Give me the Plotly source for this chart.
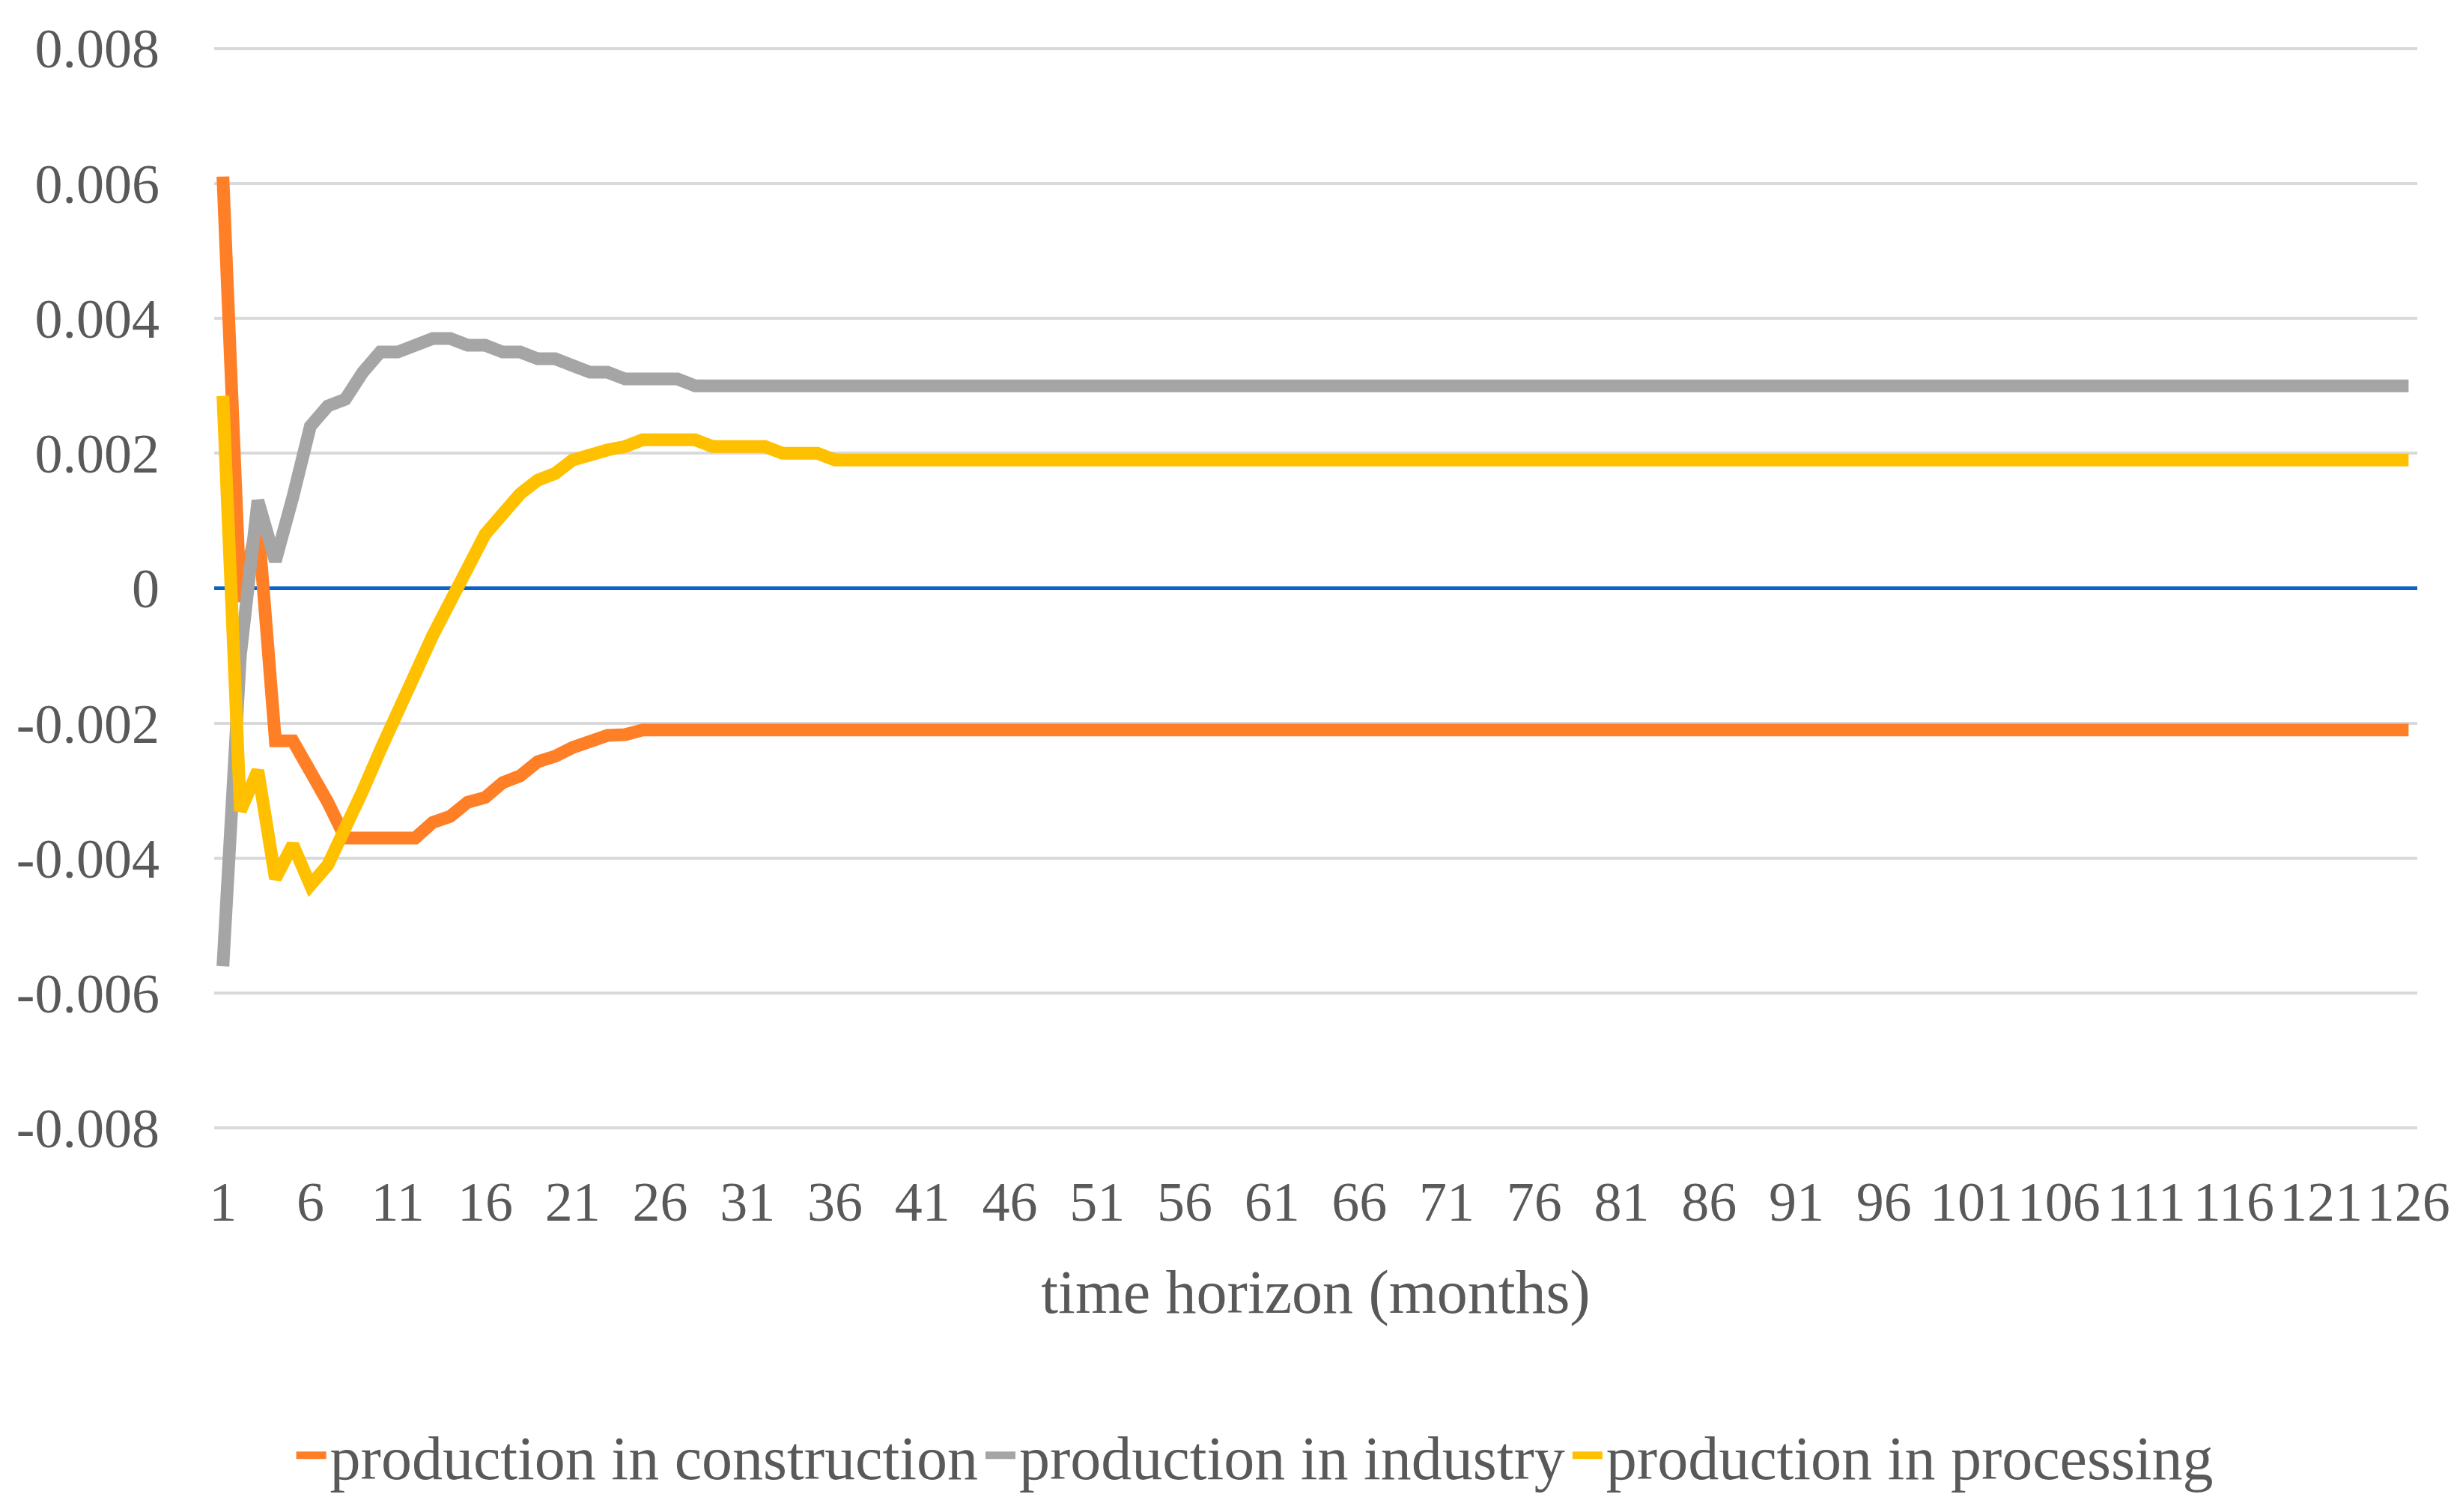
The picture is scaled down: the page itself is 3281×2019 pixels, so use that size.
import plotly.graph_objects as go

months = list(range(1, 127))

construction = [
    0.0061, -0.0002, 0.0010, -0.00226, -0.00226, -0.0027, -0.00317, -0.0037, -0.0037, -0.0037,
    -0.0037, -0.0037, -0.00347, -0.00338, -0.00317, -0.0031, -0.00288, -0.00278, -0.00257, -0.00249,
    -0.00236, -0.00226, -0.00218, -0.00217, -0.0021, -0.0021, -0.0021, -0.0021, -0.0021, -0.0021,
    -0.0021, -0.0021, -0.0021, -0.0021, -0.0021, -0.0021, -0.0021, -0.0021, -0.0021, -0.0021,
    -0.0021, -0.0021, -0.0021, -0.0021, -0.0021, -0.0021, -0.0021, -0.0021, -0.0021, -0.0021,
    -0.0021, -0.0021, -0.0021, -0.0021, -0.0021, -0.0021, -0.0021, -0.0021, -0.0021, -0.0021,
    -0.0021, -0.0021, -0.0021, -0.0021, -0.0021, -0.0021, -0.0021, -0.0021, -0.0021, -0.0021,
    -0.0021, -0.0021, -0.0021, -0.0021, -0.0021, -0.0021, -0.0021, -0.0021, -0.0021, -0.0021,
    -0.0021, -0.0021, -0.0021, -0.0021, -0.0021, -0.0021, -0.0021, -0.0021, -0.0021, -0.0021,
    -0.0021, -0.0021, -0.0021, -0.0021, -0.0021, -0.0021, -0.0021, -0.0021, -0.0021, -0.0021,
    -0.0021, -0.0021, -0.0021, -0.0021, -0.0021, -0.0021, -0.0021, -0.0021, -0.0021, -0.0021,
    -0.0021, -0.0021, -0.0021, -0.0021, -0.0021, -0.0021, -0.0021, -0.0021, -0.0021, -0.0021,
    -0.0021, -0.0021, -0.0021, -0.0021, -0.0021, -0.0021,
]

industry = [
    -0.0056, -0.0010, 0.0013, 0.0004, 0.00135, 0.0024, 0.0027, 0.0028, 0.0032, 0.0035,
    0.0035, 0.0036, 0.0037, 0.0037, 0.0036, 0.0036, 0.0035, 0.0035, 0.0034, 0.0034,
    0.0033, 0.0032, 0.0032, 0.0031, 0.0031, 0.0031, 0.0031, 0.0030, 0.0030, 0.0030,
    0.0030, 0.0030, 0.0030, 0.0030, 0.0030, 0.0030, 0.0030, 0.0030, 0.0030, 0.0030,
    0.0030, 0.0030, 0.0030, 0.0030, 0.0030, 0.0030, 0.0030, 0.0030, 0.0030, 0.0030,
    0.0030, 0.0030, 0.0030, 0.0030, 0.0030, 0.0030, 0.0030, 0.0030, 0.0030, 0.0030,
    0.0030, 0.0030, 0.0030, 0.0030, 0.0030, 0.0030, 0.0030, 0.0030, 0.0030, 0.0030,
    0.0030, 0.0030, 0.0030, 0.0030, 0.0030, 0.0030, 0.0030, 0.0030, 0.0030, 0.0030,
    0.0030, 0.0030, 0.0030, 0.0030, 0.0030, 0.0030, 0.0030, 0.0030, 0.0030, 0.0030,
    0.0030, 0.0030, 0.0030, 0.0030, 0.0030, 0.0030, 0.0030, 0.0030, 0.0030, 0.0030,
    0.0030, 0.0030, 0.0030, 0.0030, 0.0030, 0.0030, 0.0030, 0.0030, 0.0030, 0.0030,
    0.0030, 0.0030, 0.0030, 0.0030, 0.0030, 0.0030, 0.0030, 0.0030, 0.0030, 0.0030,
    0.0030, 0.0030, 0.0030, 0.0030, 0.0030, 0.0030,
]

processing = [
    0.00285, -0.0033, -0.0027, -0.0043, -0.0038, -0.0044, -0.0041, -0.0036, -0.0030, -0.0024,
    -0.0018, -0.0012, -0.0007, -0.0002, 0.0003, 0.0008, 0.0011, 0.0014, 0.0016, 0.0017,
    0.0019, 0.0020, 0.00205, 0.0021, 0.0022, 0.0022, 0.0022, 0.0022, 0.0021, 0.0021,
    0.0021, 0.0021, 0.0020, 0.0020, 0.0020, 0.0019, 0.0019, 0.0019, 0.0019, 0.0019,
    0.0019, 0.0019, 0.0019, 0.0019, 0.0019, 0.0019, 0.0019, 0.0019, 0.0019, 0.0019,
    0.0019, 0.0019, 0.0019, 0.0019, 0.0019, 0.0019, 0.0019, 0.0019, 0.0019, 0.0019,
    0.0019, 0.0019, 0.0019, 0.0019, 0.0019, 0.0019, 0.0019, 0.0019, 0.0019, 0.0019,
    0.0019, 0.0019, 0.0019, 0.0019, 0.0019, 0.0019, 0.0019, 0.0019, 0.0019, 0.0019,
    0.0019, 0.0019, 0.0019, 0.0019, 0.0019, 0.0019, 0.0019, 0.0019, 0.0019, 0.0019,
    0.0019, 0.0019, 0.0019, 0.0019, 0.0019, 0.0019, 0.0019, 0.0019, 0.0019, 0.0019,
    0.0019, 0.0019, 0.0019, 0.0019, 0.0019, 0.0019, 0.0019, 0.0019, 0.0019, 0.0019,
    0.0019, 0.0019, 0.0019, 0.0019, 0.0019, 0.0019, 0.0019, 0.0019, 0.0019, 0.0019,
    0.0019, 0.0019, 0.0019, 0.0019, 0.0019, 0.0019,
]

series_names = ["production in construction", "production in industry", "production in processing"]
x_tick_values = [1, 6, 11, 16, 21, 26, 31, 36, 41, 46, 51, 56, 61, 66, 71, 76, 81, 86, 91, 96,
                 101, 106, 111, 116, 121, 126]
y_tick_values = [-0.008, -0.006, -0.004, -0.002, 0, 0.002, 0.004, 0.006, 0.008]
y_tick_labels = ["-0.008", "-0.006", "-0.004", "-0.002", "0", "0.002", "0.004", "0.006", "0.008"]
x_title = "time horizon (months)"

FONT = "Palatino Linotype, Book Antiqua, Liberation Serif, serif"
TEXT = "#595959"
colors = ["#FF7F27", "#A5A5A5", "#FFC000"]

fig = go.Figure()
for name, vals, col in zip(series_names, [construction, industry, processing], colors):
    fig.add_trace(go.Scatter(
        x=months, y=vals, name=name, mode="lines",
        line=dict(color=col, width=17, shape="linear"),
        hoverinfo="skip",
    ))

fig.update_layout(
    width=3281, height=2019,
    paper_bgcolor="white", plot_bgcolor="white",
    margin=dict(l=278, r=61, t=52, b=516),
    font=dict(family=FONT, size=74, color=TEXT),
    showlegend=True,
    legend=dict(
        orientation="h", x=0.4725, xanchor="center", y=-0.298, yanchor="middle",
        font=dict(family=FONT, size=82, color=TEXT),
        itemwidth=40, tracegroupgap=0, bgcolor="rgba(0,0,0,0)",
    ),
    xaxis=dict(
        range=[0.5, 126.5], tickmode="array", tickvals=x_tick_values,
        ticktext=[str(v) for v in x_tick_values], tickangle=0,
        showgrid=False, zeroline=False, showline=False, ticks="",
        ticklabelstandoff=44,
        tickfont=dict(family=FONT, size=74, color=TEXT),
        title=dict(text=x_title, font=dict(family=FONT, size=82, color=TEXT), standoff=50),
        automargin=False,
    ),
    yaxis=dict(
        range=[-0.00805, 0.00805], tickmode="array", tickvals=y_tick_values, ticktext=y_tick_labels,
        showgrid=True, gridcolor="#D9D9D9", gridwidth=4,
        zeroline=True, zerolinecolor="#0A64C8", zerolinewidth=5,
        showline=False, ticks="", ticklabelstandoff=72,
        tickfont=dict(family=FONT, size=74, color=TEXT),
        automargin=False,
    ),
)

fig.write_html("out.html")
